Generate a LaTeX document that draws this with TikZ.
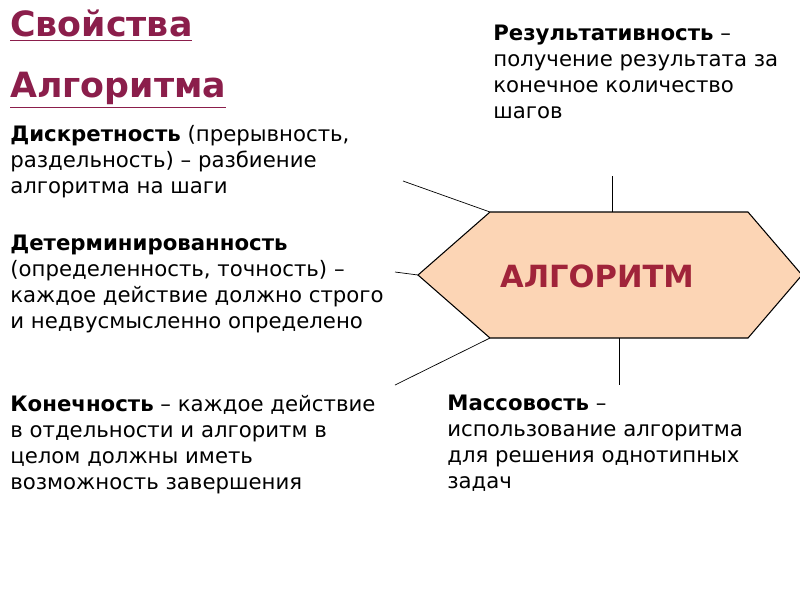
\documentclass[tikz,border=0pt]{standalone}
\usepackage{fontspec}
\setmainfont{DejaVu Sans}
\usetikzlibrary{positioning}
\definecolor{titlered}{RGB}{139,30,75}
\definecolor{algored}{RGB}{160,36,58}
\definecolor{hexfill}{RGB}{252,213,181}
\tikzset{
  prop/.style={anchor=north west, align=left, inner sep=0pt,
    font=\fontsize{12.1}{14.8}\selectfont},
  head/.style={anchor=north west, inner sep=0pt, text=titlered,
    font=\fontsize{19.8}{22}\selectfont\bfseries},
  spoke/.style={thin, black}
}
\begin{document}
\begin{tikzpicture}[x=0.02cm, y=-0.02cm]
		\useasboundingbox (0,0) rectangle (800,600);
		% title
		\node[head] (t1) at (10,10) {\underline{Свойства}};
		\node[head] (t2) at (10,72) {\underline{Алгоритма}};
		% hexagon
		\coordinate (hl) at (418,275);
		\coordinate (htl) at (490,212);
		\coordinate (htr) at (748,212);
		\coordinate (hr) at (802,275);
		\coordinate (hbr) at (748,338);
		\coordinate (hbl) at (490,338);
		\draw[fill=hexfill, line width=0.6pt] (hl) -- (htl) -- (htr) -- (hr) -- (hbr) -- (hbl) -- cycle;
		\node[text=algored, font=\fontsize{17.4}{20}\selectfont\bfseries] (algo) at (597,276) {АЛГОРИТМ};
		% properties
		\node[prop] (discr) at (10,125) {\textbf{Дискретность} (прерывность,\\раздельность) – разбиение\\алгоритма на шаги};
		\node[prop] (determ) at (10,235) {\textbf{Детерминированность}\\(определенность, точность) –\\каждое действие должно строго\\и недвусмысленно определено};
		\node[prop] (fin) at (10,395) {\textbf{Конечность} – каждое действие\\в отдельности и алгоритм в\\целом должны иметь\\возможность завершения};
		\node[prop] (res) at (493,25) {\textbf{Результативность} –\\получение результата за\\конечное количество\\шагов};
		\node[prop] (mass) at (447,395) {\textbf{Массовость} –\\использование алгоритма\\для решения однотипных\\задач};
		% spokes
		\coordinate (s1) at (403,181);
		\coordinate (s2) at (395,272);
		\coordinate (s3) at (395,385);
		\coordinate (s4) at (612,176);
		\coordinate (s5) at (619,385);
		\draw[spoke] (htl) -- (s1);
		\draw[spoke] (hl) -- (s2);
		\draw[spoke] (hbl) -- (s3);
		\draw[spoke] (612,212) -- (s4);
		\draw[spoke] (619,338) -- (s5);
\end{tikzpicture}
\end{document}
